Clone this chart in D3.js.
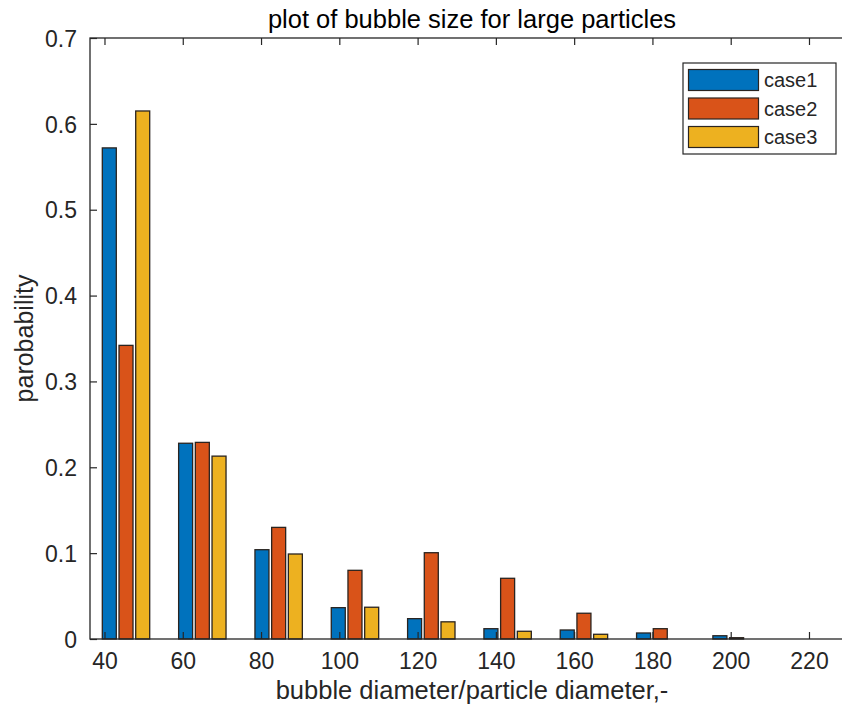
<!DOCTYPE html>
<html>
  <head>
    <meta charset="utf-8">
    <title>plot of bubble size for large particles</title>
    <script src="https://cdn.jsdelivr.net/npm/d3@7"></script>
    <style>
      body { margin: 0; background: #fff; overflow: hidden; }
      svg { display: block; font-family: "Liberation Sans", Arial, sans-serif; }
    </style>
  </head>
  <body>
    <svg id="chart" width="842" height="713"></svg>
    <script>
      // data
      const binCentres = [45.5, 65.0, 84.5, 104.0, 123.5, 143.0, 162.5, 182.0, 201.5];
      const case1 = [0.572, 0.228, 0.104, 0.0365, 0.0237, 0.012, 0.0105, 0.007, 0.0038];
      const case2 = [0.342, 0.229, 0.130, 0.080, 0.1005, 0.0707, 0.030, 0.012, 0.0015];
      const case3 = [0.615, 0.213, 0.099, 0.037, 0.020, 0.009, 0.0055, 0, 0];
      const seriesNames = ["case1", "case2", "case3"];
      const xTicks = [40, 60, 80, 100, 120, 140, 160, 180, 200, 220];
      const yTicks = [0, 0.1, 0.2, 0.3, 0.4, 0.5, 0.6, 0.7];

      const colours = ["#0072BD", "#D95319", "#EDB120"];
      const axisColour = "#262626";
      const svg = d3.select("#chart");
      // the right side of the axes box falls just outside the picture
      const box = { left: 90, right: 854, top: 38, bottom: 639 };

      const rows = binCentres.map(function(c, i) {
        return { x: c, values: [case1[i], case2[i], case3[i]] };
      });

      const x = d3.scaleLinear().domain([36.3, 231.5]).range([box.left, box.right]);
      const y = d3.scaleLinear().domain([0, 0.7]).range([box.bottom, box.top]);
      const inner = d3.scalePoint().domain(seriesNames).range([-16.7, 16.7]);
      const barWidth = 14;

      // bars
      const groups = svg.append("g")
        .selectAll("g")
        .data(rows)
        .enter().append("g")
          .attr("transform", function(d) { return "translate(" + x(d.x) + ",0)"; });
      groups.selectAll("rect")
        .data(function(d) { return d.values.map(function(v, i) { return { name: seriesNames[i], value: v, i: i }; }); })
        .enter().append("rect")
          .attr("x", function(d) { return inner(d.name) - barWidth / 2; })
          .attr("width", barWidth)
          .attr("y", function(d) { return y(d.value); })
          .attr("height", function(d) { return y(0) - y(d.value); })
          .attr("fill", function(d) { return colours[d.i]; })
          .attr("stroke", "#2a2420")
          .attr("stroke-width", 1.3);

      // axes, ticks pointing inward like matlab
      const tickLen = 7;
      const xBottom = svg.append("g")
        .attr("transform", "translate(0," + box.bottom + ")")
        .call(d3.axisBottom(x).tickValues(xTicks).tickSize(-tickLen).tickPadding(14));
      const xTop = svg.append("g")
        .attr("transform", "translate(0," + box.top + ")")
        .call(d3.axisTop(x).tickValues(xTicks).tickSize(-tickLen).tickFormat(""));
      const yLeft = svg.append("g")
        .attr("transform", "translate(" + box.left + ",0)")
        .call(d3.axisLeft(y).tickValues(yTicks).tickSize(-tickLen).tickPadding(13)
          .tickFormat(function(d) { return d === 0 ? "0" : d3.format(".1f")(d); }));
      [xBottom, xTop, yLeft].forEach(function(a) {
        a.select(".domain").remove();
        a.selectAll(".tick line").attr("stroke", axisColour).attr("stroke-width", 1.2);
        a.selectAll(".tick text").style("font-size", "23px").attr("fill", axisColour);
      });
      yLeft.selectAll(".tick text").attr("dy", "0.36em");

      // box
      svg.append("rect")
        .attr("x", box.left)
        .attr("y", box.top)
        .attr("width", box.right - box.left)
        .attr("height", box.bottom - box.top)
        .attr("fill", "none")
        .attr("stroke", axisColour)
        .attr("stroke-width", 1.3);

      // titles
      svg.append("text")
        .attr("x", (box.left + box.right) / 2)
        .attr("y", 28)
        .attr("text-anchor", "middle")
        .style("font-size", "25.5px")
        .attr("fill", "#000")
        .text("plot of bubble size for large particles");
      svg.append("text")
        .attr("x", (box.left + box.right) / 2)
        .attr("y", 699)
        .attr("text-anchor", "middle")
        .style("font-size", "25.5px")
        .attr("fill", axisColour)
        .text("bubble diameter/particle diameter,-");
      svg.append("text")
        .attr("transform", "translate(33," + ((box.top + box.bottom) / 2) + ") rotate(-90)")
        .attr("text-anchor", "middle")
        .style("font-size", "25px")
        .attr("fill", axisColour)
        .text("parobability");

      // legend
      const legend = svg.append("g").attr("transform", "translate(683,63)");
      legend.append("rect")
        .attr("width", 153)
        .attr("height", 91)
        .attr("fill", "#fff")
        .attr("stroke", axisColour)
        .attr("stroke-width", 1.2);
      const items = legend.selectAll(".item")
        .data(seriesNames)
        .enter().append("g")
          .attr("transform", function(d, i) { return "translate(0," + (i * 28.5) + ")"; });
      items.append("rect")
        .attr("x", 5.5)
        .attr("y", 6.5)
        .attr("width", 70)
        .attr("height", 21)
        .attr("fill", function(d, i) { return colours[i]; })
        .attr("stroke", "#2a2420")
        .attr("stroke-width", 1.2);
      items.append("text")
        .attr("x", 81)
        .attr("y", 24)
        .style("font-size", "20px")
        .attr("fill", axisColour)
        .text(function(d) { return d; });
    </script>
  </body>
</html>
